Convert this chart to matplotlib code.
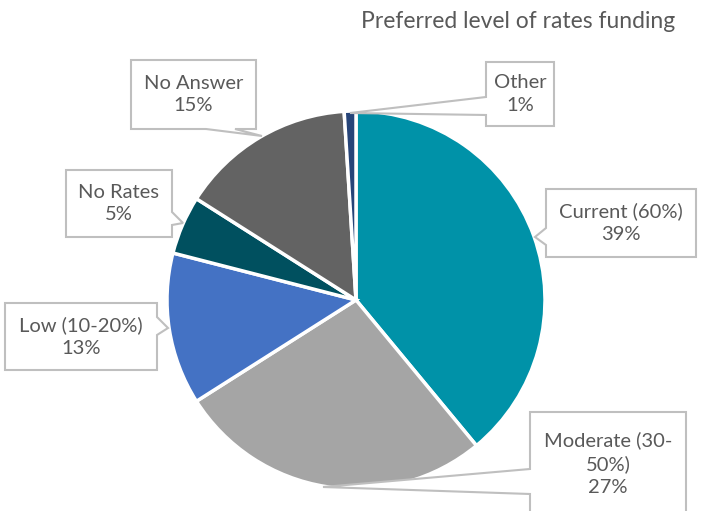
import matplotlib
matplotlib.use("Agg")
import matplotlib.pyplot as plt
from matplotlib.patches import Polygon

plt.rcParams['font.family'] = ['Lato', 'DejaVu Sans']

# -- Data --
categories = ['Current (60%)', 'Moderate (30-50%)', 'Low (10-20%)', 'No Rates', 'No Answer', 'Other']
shares = [39, 27, 13, 5, 15, 1]
label_texts = ['Current (60%)\n39%', 'Moderate (30-\n50%)\n27%', 'Low (10-20%)\n13%',
               'No Rates\n5%', 'No Answer\n15%', 'Other\n1%']
colors = ['#0092A8', '#A5A5A5', '#4472C4', '#00505F', '#636363', '#264478']
title = 'Preferred level of rates funding'

W, H = 703, 511
fig = plt.figure(figsize=(W / 100, H / 100), dpi=100)

# pie axes (pixel layout: centre 356,300 radius ~189)
cx, cy, r = 356, 300, 189
ax = fig.add_axes([(cx - r) / W, (H - cy - r) / H, 2 * r / W, 2 * r / H])
ax.pie(shares, colors=colors, startangle=90, counterclock=False,
       wedgeprops=dict(edgecolor='white', linewidth=2.5))
ax.set_xlim(-1, 1)
ax.set_ylim(-1, 1)
ax.set_aspect('equal')

# overlay for title + callouts, pixel coords
ov = fig.add_axes([0, 0, 1, 1])
ov.set_xlim(0, W)
ov.set_ylim(H, 0)
ov.axis('off')

ov.text(518, 21, title, ha='center', va='center', fontsize=16.5, color='#595959')


def callout(box, side, base, tip, text):
    x0, y0, x1, y1 = box
    b0, b1 = base
    if side == 'left':
        pts = [(x0, y0), (x1, y0), (x1, y1), (x0, y1), (x0, b1), tip, (x0, b0)]
    elif side == 'right':
        pts = [(x0, y0), (x1, y0), (x1, b0), tip, (x1, b1), (x1, y1), (x0, y1)]
    else:  # bottom
        pts = [(x0, y0), (x1, y0), (x1, y1), (b1, y1), tip, (b0, y1), (x0, y1)]
    ov.add_patch(Polygon(pts, closed=True, facecolor='white', edgecolor='#BFBFBF',
                         linewidth=1.5, zorder=3))
    ov.text((x0 + x1) / 2, (y0 + y1) / 2, text, ha='center', va='center',
            fontsize=14.5, color='#595959', linespacing=1.4, zorder=4)


# box (x0,y0,x1,y1), notch side, notch base, tip on pie edge
layout = [
    ((546, 189, 696, 257), 'left', (228, 245), (535, 237)),
    ((530, 412, 686, 515), 'left', (469, 494), (323, 487)),
    ((5, 303, 157, 370), 'right', (317, 335), (168, 328)),
    ((66, 170, 172, 237), 'right', (212, 225), (183, 223)),
    ((131, 60, 256, 129), 'bottom', (206, 235), (262, 136)),
    ((486, 62, 554, 126), 'left', (97, 115), (350, 113)),
]
for txt, (box, side, base, tip) in zip(label_texts, layout):
    callout(box, side, base, tip, txt)

fig.savefig('out.png', dpi=100)
